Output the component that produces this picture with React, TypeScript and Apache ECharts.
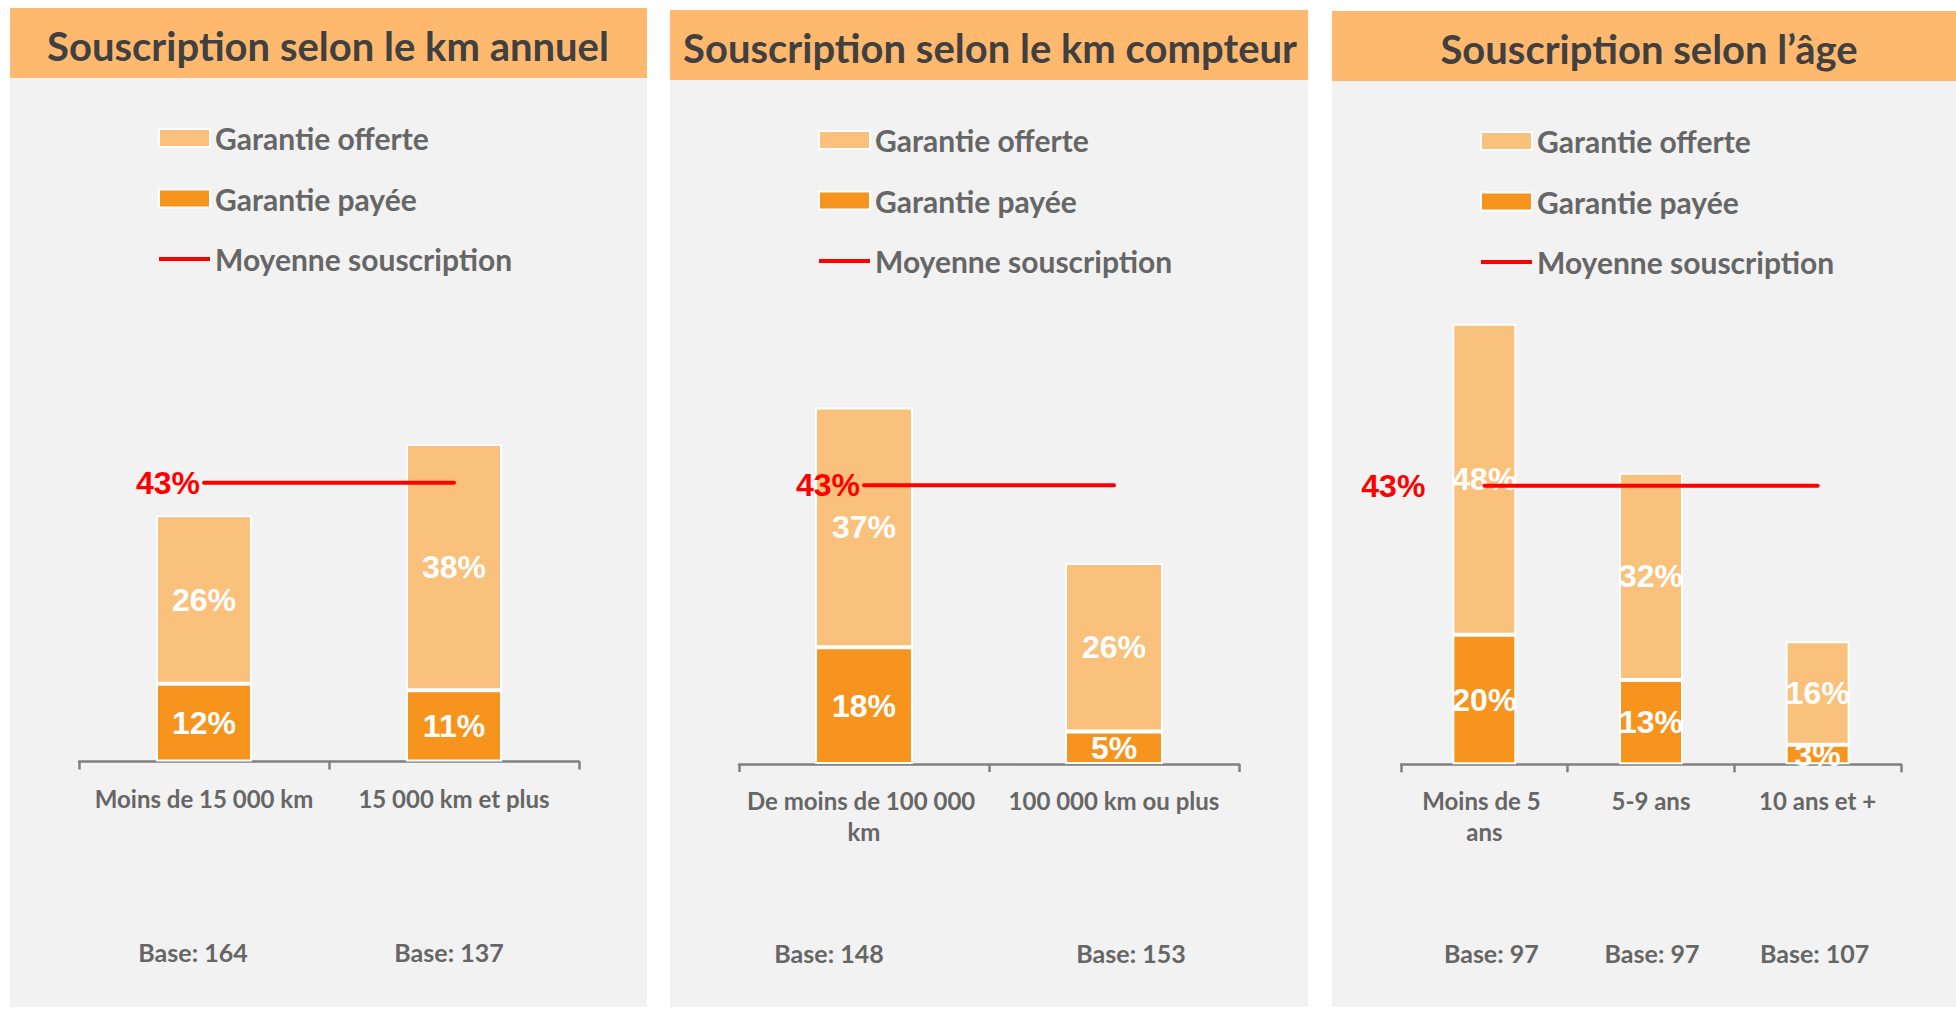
import React, { useEffect, useRef } from 'react';
import * as echarts from 'echarts';

// ---------- DATA ----------
const panelTitles = [
  'Souscription selon le km annuel',
  'Souscription selon le km compteur',
  'Souscription selon l’âge',
];
const seriesNames = ['Garantie offerte', 'Garantie payée', 'Moyenne souscription'];

const catsKmAnnuel = ['Moins de 15 000 km', '15 000 km et plus'];
const paidKmAnnuel = [12, 11];
const offeredKmAnnuel = [26, 38];
const baseKmAnnuel = ['Base: 164', 'Base: 137'];

const catsKmCompteur = ['De moins de 100 000 km', '100 000 km ou plus'];
const paidKmCompteur = [18, 5];
const offeredKmCompteur = [37, 26];
const baseKmCompteur = ['Base: 148', 'Base: 153'];

const catsAge = ['Moins de 5 ans', '5-9 ans', '10 ans et +'];
const paidAge = [20, 13, 3];
const offeredAge = [48, 32, 16];
const baseAge = ['Base: 97', 'Base: 97', 'Base: 107'];

const meanSubscription = 43;

const panelData = [
  { cats: catsKmAnnuel, paid: paidKmAnnuel, offered: offeredKmAnnuel, base: baseKmAnnuel },
  { cats: catsKmCompteur, paid: paidKmCompteur, offered: offeredKmCompteur, base: baseKmCompteur },
  { cats: catsAge, paid: paidAge, offered: offeredAge, base: baseAge },
];

// ---------- LAYOUT / STYLE ----------
const W = 1956;
const H = 1009;
const PX_PER_UNIT = 6.48;
const layout = [
  { x: 10, w: 637, top: 8, titleX: 328, titleY: 46, legendLeft: 158, legendTop: 123, gridLeft: 79, axisY: 761.5, barWidth: 96, labelWidth: 240, meanDist: 3, baseOffset: 178, baseShift: [-11, -5] },
  { x: 670, w: 638, top: 10, titleX: 990, titleY: 48, legendLeft: 818, legendTop: 125, gridLeft: 739, axisY: 764, barWidth: 98, labelWidth: 240, meanDist: 3, baseOffset: 176, baseShift: [-35, 17] },
  { x: 1332, w: 624, top: 11, titleX: 1649, titleY: 49, legendLeft: 1480, legendTop: 126, gridLeft: 1401, axisY: 764.3, barWidth: 64, labelWidth: 135, meanDist: 58, baseOffset: 176, baseShift: [7, 1, -3] },
];

const COLOR_OFFERED = '#F9C17B';
const COLOR_PAID = '#F7941E';
const COLOR_BAND = '#FFB96F';
const COLOR_PANEL = '#F2F2F2';
const COLOR_TEXT = '#666666';
const COLOR_TITLE = '#404040';
const COLOR_AXIS = '#808080';
const COLOR_MEAN = '#FF0000';
const FONT = 'Lato';
const LABEL_FONT = 'Liberation Sans';

function buildOption() {
  const graphic: any[] = [];
  const grid: any[] = [];
  const xAxis: any[] = [];
  const yAxis: any[] = [];
  const series: any[] = [];
  const legend: any[] = [];

  layout.forEach((L, i) => {
    const D = panelData[i];
    graphic.push({
      type: 'rect', z: -100, silent: true,
      shape: { x: L.x, y: L.top, width: L.w, height: H - 2 - L.top },
      style: { fill: COLOR_PANEL },
    });
    graphic.push({
      type: 'rect', z: -99, silent: true,
      shape: { x: L.x, y: L.top, width: L.w, height: 70 },
      style: { fill: COLOR_BAND },
    });
    graphic.push({
      type: 'text', z: 100, silent: true, x: L.titleX, y: L.titleY,
      style: {
        text: panelTitles[i], fill: COLOR_TITLE,
        fontSize: 40, fontWeight: 'bold', fontFamily: FONT,
        align: 'center', verticalAlign: 'middle',
        textAlign: 'center', textVerticalAlign: 'middle',
      },
    });

    const gridHeight = 100 * PX_PER_UNIT;
    grid.push({
      left: L.gridLeft, width: 500,
      top: L.axisY - gridHeight, height: gridHeight,
      containLabel: false, show: false,
    });

    xAxis.push({
      type: 'category', gridIndex: i, data: D.cats, boundaryGap: true,
      axisLine: { show: true, lineStyle: { color: COLOR_AXIS, width: 2.5 } },
      axisTick: { show: true, length: 8, interval: 0, lineStyle: { color: COLOR_AXIS, width: 2.5 } },
      axisLabel: {
        interval: 0, margin: 21, color: COLOR_TEXT, fontSize: 24, fontWeight: 'bold',
        fontFamily: FONT, lineHeight: 31, width: L.labelWidth, overflow: 'break', align: 'center',
      },
      splitLine: { show: false },
    });
    xAxis.push({
      type: 'category', gridIndex: i, position: 'bottom', offset: L.baseOffset,
      data: D.base.map((b, j) => {
        const s = L.baseShift[j] || 0;
        return {
          value: b,
          textStyle: { padding: s < 0 ? [0, -2 * s, 0, 0] : [0, 0, 0, 2 * s] },
        };
      }),
      axisLine: { show: false }, axisTick: { show: false },
      axisLabel: {
        interval: 0, margin: 0, color: COLOR_TEXT, fontSize: 25, fontWeight: 'bold', fontFamily: FONT,
      },
    });
    yAxis.push({
      type: 'value', gridIndex: i, min: 0, max: 100, show: false,
      splitLine: { show: false },
    });

    const barLabel = {
      show: true, position: 'inside', formatter: '{c}%', color: '#FFFFFF',
      fontSize: 32, fontWeight: 'bold', fontFamily: LABEL_FONT,
    };
    series.push({
      type: 'bar', name: seriesNames[1], xAxisIndex: 2 * i, yAxisIndex: i, stack: 'st' + i,
      data: D.paid, barWidth: L.barWidth,
      itemStyle: { color: COLOR_PAID, borderColor: '#FFFFFF', borderWidth: 2 },
      label: barLabel,
    });
    series.push({
      type: 'bar', name: seriesNames[0], xAxisIndex: 2 * i, yAxisIndex: i, stack: 'st' + i,
      data: D.offered, barWidth: L.barWidth,
      itemStyle: { color: COLOR_OFFERED, borderColor: '#FFFFFF', borderWidth: 2 },
      label: barLabel,
    });
    series.push({
      type: 'line', name: seriesNames[2], xAxisIndex: 2 * i, yAxisIndex: i, z: 5,
      symbol: 'none',
      lineStyle: { color: COLOR_MEAN, width: 4, cap: 'round' },
      itemStyle: { color: COLOR_MEAN },
      data: D.cats.map((_, j) =>
        j === 0
          ? {
              value: meanSubscription, symbol: 'circle', symbolSize: 2,
              label: {
                show: true, position: 'left', distance: L.meanDist, formatter: '{c}%',
                color: COLOR_MEAN, fontSize: 32, fontWeight: 'bold', fontFamily: LABEL_FONT,
              },
            }
          : meanSubscription,
      ),
    });

    legend.push({
      orient: 'vertical', left: L.legendLeft, top: L.legendTop, padding: 0,
      itemWidth: 51, itemHeight: 18, itemGap: 30.5, selectedMode: false,
      data: [
        { name: seriesNames[0], icon: 'rect', itemStyle: { borderColor: '#FFFFFF', borderWidth: 2 } },
        { name: seriesNames[1], icon: 'rect', itemStyle: { borderColor: '#FFFFFF', borderWidth: 2 } },
        {
          name: seriesNames[2], icon: 'path://M0,0L51,0L51,4L0,4Z',
          itemStyle: { color: COLOR_MEAN, borderWidth: 0 },
        },
      ],
      textStyle: { color: COLOR_TEXT, fontSize: 30, fontWeight: 'bold', fontFamily: FONT },
    });
  });

  return {
    animation: false,
    backgroundColor: '#FFFFFF',
    graphic,
    grid,
    xAxis,
    yAxis,
    legend,
    series,
  };
}

export default function App() {
  const ref = useRef<HTMLDivElement>(null);
  useEffect(() => {
    if (!ref.current) return;
    const chart = echarts.init(ref.current, undefined, { renderer: 'svg' });
    chart.setOption(buildOption() as any);
    return () => chart.dispose();
  }, []);
  return (
    <div
      ref={ref}
      style={{ position: 'absolute', left: 0, top: 0, width: W, height: H }}
    />
  );
}
